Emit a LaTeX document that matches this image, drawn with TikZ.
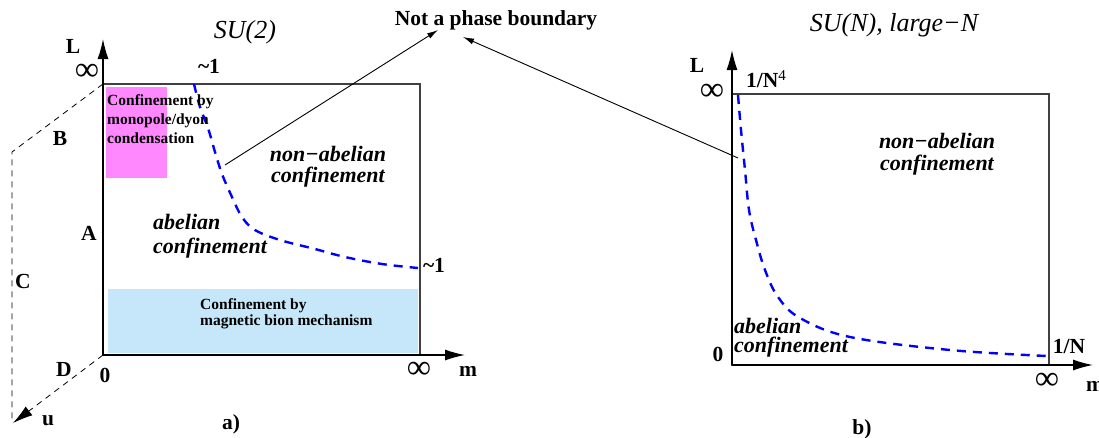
\documentclass[tikz,border=0pt]{standalone}
\usepackage{fontspec}
\setmainfont{Liberation Serif}
\usetikzlibrary{arrows.meta}
\definecolor{pinkfill}{RGB}{255,136,255}
\definecolor{bluefill}{RGB}{198,231,249}
\begin{document}
\begin{tikzpicture}[x=1pt,y=-1pt,
  lbl/.style={font=\fontsize{21.5}{23}\selectfont\bfseries, inner sep=0pt},
  inf/.style={font=\fontsize{34}{34}\selectfont, inner sep=0pt},
  reg/.style={font=\fontsize{22}{22}\selectfont\bfseries\itshape, inner sep=0pt},
  boxtxt/.style={font=\fontsize{15.5}{19}\selectfont\bfseries, inner sep=0pt, align=left},
  ttl/.style={font=\fontsize{26}{26}\selectfont\itshape, inner sep=0pt},
  axisarrow/.style={line width=1.3pt, -{Latex[length=20pt,width=11pt]}},
  boxframe/.style={line width=1.2pt, black!75},
  phaseline/.style={blue, line width=2.4pt, dash pattern=on 9pt off 7pt},
  dimaxis/.style={line width=0.8pt, dash pattern=on 6pt off 5pt},
  pointer/.style={line width=0.9pt, -{Latex[length=11pt,width=6pt]}}
]
\useasboundingbox (0,0) rectangle (1099,437);

% ---------------- panel a ----------------
\fill[pinkfill] (106,87) rectangle (167,178);
\fill[bluefill] (108,289) rectangle (418,353);
\draw[boxframe] (103,84) rectangle (420,355);
\draw[axisarrow] (103,355) -- (103,39);
\draw[axisarrow] (103,355) -- (465,355);
\draw[dimaxis] (103,84) -- (12,152) -- (12,420);
\draw[dimaxis, -{Latex[length=20pt,width=11pt]}] (103,355) -- (13,423);

\draw[phaseline] plot[smooth, tension=0.6] coordinates
  {(194,84) (200,107) (208,128) (215,152) (222,174) (232,197) (242,217)
   (255,230) (280,240) (315,249) (345,257) (382,264) (418,268)};

\node[lbl] (La) at (73,46) {L};
\node[inf] (infLa) at (87,72) {∞};
\node[lbl] (t1a) at (209,66) {\textasciitilde 1};
\node[ttl] (su2) at (245,32) {SU(2)};
\node[lbl] (B) at (60,138) {B};
\node[lbl] (A) at (89,233) {A};
\node[lbl] (C) at (23,281) {C};
\node[lbl] (D) at (64,369) {D};
\node[lbl] (zeroa) at (105,375) {0};
\node[inf] (infma) at (419,370) {∞};
\node[lbl] (ma) at (468,371) {m};
\node[lbl] (u) at (48,421) {u};
\node[lbl] (a) at (231,424) {a)};
\node[lbl] (t2a) at (434,265) {\textasciitilde 1};

\node[boxtxt, anchor=north west] (mono) at (107,94)
  {Confinement by\\monopole/dyon\\condensation};
\node[boxtxt, anchor=north west, font=\fontsize{15.5}{16}\selectfont\bfseries] (bion) at (200,298)
  {Confinement by\\magnetic bion mechanism};
\node[reg, align=center, font=\fontsize{22}{21}\selectfont\bfseries\itshape] (naa) at (328,167)
  {non−abelian\\confinement};
\node[reg, align=left, anchor=north west, font=\fontsize{22}{24}\selectfont\bfseries\itshape] (aba) at (153,214)
  {abelian\\confinement};

% ---------------- panel b ----------------
\draw[boxframe] (732,94) rectangle (1049,365);
\draw[axisarrow] (732,365) -- (732,50);
\draw[axisarrow] (732,365) -- (1093,365);

\draw[phaseline] plot[smooth, tension=0.6] coordinates
  {(738,95) (741,130) (745,170) (749,210) (756,240) (765,270) (778,297)
   (800,318) (850,337) (950,350) (1047,356)};

\node[ttl] (sun) at (894,25) {SU(N), large−N};
\node[lbl] (Lb) at (697,65) {L};
\node[inf] (infLb) at (712,92) {∞};
\node[lbl, anchor=west] (n4) at (746,79) {1/N\textsuperscript{\mdseries 4}};
\node[lbl] (zerob) at (718,354) {0};
\node[lbl] (n1) at (1069,346) {1/N};
\node[inf] (infmb) at (1047,381) {∞};
\node[lbl] (mb) at (1095,386) {m};
\node[lbl] (b) at (862,429) {b)};
\node[reg, align=center, anchor=north, font=\fontsize{22}{22}\selectfont\bfseries\itshape] (nab) at (937,133)
  {non−abelian\\confinement};
\node[reg, align=left, anchor=north west, font=\fontsize{22}{19}\selectfont\bfseries\itshape] (abb) at (734,318)
  {abelian\\confinement};

% ---------------- pointer ----------------
\node[font=\fontsize{21.5}{21.5}\selectfont\bfseries, inner sep=0pt] (npb) at (496,20) {Not a phase boundary};
\coordinate (s1) at (225,165);
\coordinate (e1) at (438,30);
\coordinate (s2) at (738,158);
\coordinate (e2) at (463,37);
\draw[pointer] (s1) -- (e1);
\draw[pointer] (s2) -- (e2);
\end{tikzpicture}
\end{document}
